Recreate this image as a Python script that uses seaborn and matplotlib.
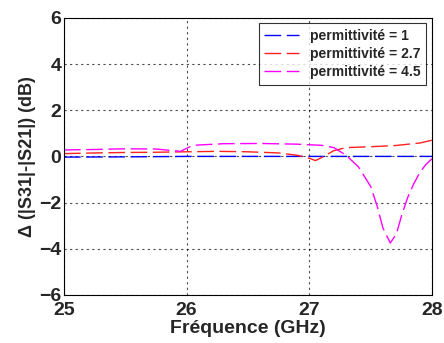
import matplotlib
matplotlib.use("Agg")
import matplotlib.pyplot as plt
import seaborn as sns
import pandas as pd

# --- data ---
freq_eps1 = [25.0, 25.5, 26.0, 26.5, 27.0, 27.5, 28.0]
delta_eps1 = [-0.03, -0.02, 0.0, 0.0, 0.0, 0.0, 0.0]

freq_eps27 = [25.0, 25.25, 25.5, 25.75, 26.0, 26.25, 26.5, 26.75, 26.9, 27.0,
              27.05, 27.1, 27.2, 27.3, 27.5, 27.7, 27.9, 28.0]
delta_eps27 = [0.12, 0.15, 0.17, 0.18, 0.2, 0.22, 0.2, 0.15, 0.05, -0.08,
               -0.18, -0.05, 0.25, 0.38, 0.42, 0.47, 0.58, 0.7]

freq_eps45 = [25.0, 25.25, 25.5, 25.75, 25.95, 26.05, 26.3, 26.6, 26.9, 27.1,
              27.2, 27.3, 27.4, 27.5, 27.55, 27.6, 27.66, 27.71, 27.75, 27.8,
              27.85, 27.9, 27.95, 28.0]
delta_eps45 = [0.28, 0.3, 0.33, 0.32, 0.22, 0.48, 0.55, 0.56, 0.53, 0.48,
               0.38, 0.05, -0.45, -1.3, -2.1, -3.1, -3.75, -3.35, -2.6, -1.8,
               -1.2, -0.7, -0.35, -0.1]

series = [
    ("permittivité = 1", freq_eps1, delta_eps1, "#0000ff"),
    ("permittivité = 2.7", freq_eps27, delta_eps27, "#ff2020"),
    ("permittivité = 4.5", freq_eps45, delta_eps45, "#ff00ff"),
]

sns.set_style("white")
plt.rcParams["font.family"] = ["Liberation Sans", "DejaVu Sans"]
plt.rcParams["font.weight"] = "bold"

fig = plt.figure(figsize=(4.44, 3.43), dpi=100)
ax = fig.add_axes([0.144, 0.14, 0.829, 0.808])

for label, f, d, c in series:
    df = pd.DataFrame({"f": f, "d": d})
    sns.lineplot(data=df, x="f", y="d", ax=ax, color=c, label=label,
                 linewidth=1.0, dashes=False)
    ax.lines[-1].set_dashes((12, 4))

ax.set_xlim(25, 28)
ax.set_ylim(-6, 6)
ax.set_xticks([25, 26, 27, 28])
ax.set_yticks([-6, -4, -2, 0, 2, 4, 6])
ax.grid(True, color="black", linestyle=(0, (2, 3)), linewidth=0.8, alpha=0.7)
ax.tick_params(labelsize=14, length=3, direction="in")
ax.tick_params(axis="x", pad=5)
ax.tick_params(axis="y", pad=2)
for t in ax.get_xticklabels() + ax.get_yticklabels():
    t.set_fontweight("bold")
for s in ax.spines.values():
    s.set_color("black")
    s.set_linewidth(0.8)

ax.set_xlabel("Fréquence (GHz)", fontsize=14, fontweight="bold", labelpad=1)
ax.set_ylabel("Δ (|S31|-|S21|) (dB)", fontsize=13, fontweight="bold", labelpad=2)

leg = ax.legend(loc="upper right", frameon=True, fancybox=False,
                handlelength=2.5, borderaxespad=0.4, labelspacing=0.3,
                edgecolor="black", prop={"weight": "bold", "size": 10})
leg.get_frame().set_linewidth(0.8)

fig.savefig("out.png", dpi=100)
